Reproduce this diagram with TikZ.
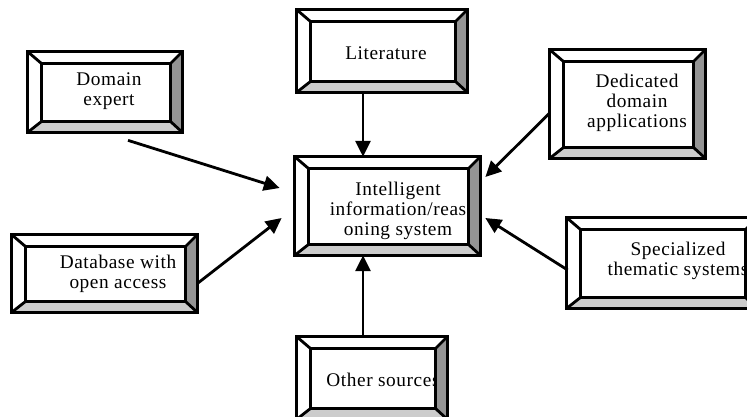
\documentclass[tikz,border=0pt]{standalone}
\usepackage{fontspec}
\setmainfont{Liberation Serif}[LetterSpace=3]
\usepackage{tikz}
\usetikzlibrary{arrows.meta,calc}

% raised frame drawn over a box node
\newcommand{\bevel}[1]{%
  \fill[black!42] (#1.north east) -- (#1.south east) -- ([shift={(-12,-11)}]#1.south east) -- ([shift={(-12,12)}]#1.north east) -- cycle;
  \fill[black!20] (#1.south west) -- (#1.south east) -- ([shift={(-12,-11)}]#1.south east) -- ([shift={(14,-11)}]#1.south west) -- cycle;
  \draw[frame] (#1.north west) rectangle (#1.south east);
  \draw[frame] ([shift={(14,12)}]#1.north west) rectangle ([shift={(-12,-11)}]#1.south east);
  \draw[frame] (#1.north west) -- ([shift={(14,12)}]#1.north west)
    (#1.north east) -- ([shift={(-12,12)}]#1.north east)
    (#1.south east) -- ([shift={(-12,-11)}]#1.south east)
    (#1.south west) -- ([shift={(14,-11)}]#1.south west);
}

\begin{document}
\begin{tikzpicture}[x=0.02cm, y=-0.02cm,
    bbox/.style n args={2}{fill=white, inner sep=0pt, minimum width=#1*0.02cm, minimum height=#2*0.02cm},
    txt/.style={align=center, inner sep=0pt, font=\fontsize{11}{11.5}\selectfont},
    frame/.style={line width=1.6pt, line join=miter},
    feed/.style={-{Triangle[length=9pt, width=8.5pt]}, line width=1.6pt}
  ]
    \useasboundingbox (0,0) rectangle (747,416);

    \node[bbox={154}{80}] (dom) at (105,92) {};
    \node[bbox={170}{82}] (lit) at (382,51) {};
    \node[bbox={185}{98}] (cen) at (387.5,206) {};
    \node[bbox={155}{108}] (ded) at (627.5,104) {};
    \node[bbox={185}{77}] (db) at (104.5,273.5) {};
    \node[bbox={190}{90}] (spe) at (662,263) {};
    \node[bbox={150}{82}] (oth) at (372,378) {};

    \node[txt] (domT) at (109,91) {Domain\\expert};
    \node[txt] (litT) at (386,53) {Literature};
    \node[txt] (cenT) at (398,211) {Intelligent\\information/reas\\oning system};
    \node[txt] (dedT) at (637,103) {Dedicated\\domain\\applications};
    \node[txt] (dbT) at (118,274) {Database with\\open access};
    \node[txt] (speT) at (678,261) {Specialized\\thematic systems};
    \node[txt] (othT) at (383,380) {Other sources};

    \bevel{dom}
    \bevel{lit}
    \bevel{cen}
    \bevel{ded}
    \bevel{db}
    \bevel{spe}
    \bevel{oth}

    \draw[feed] ([shift={(-19,0)}]lit.south) -- ([shift={(-24.5,0)}]cen.north);
    \draw[feed] ([shift={(23,8)}]dom.south) -- ([shift={(-15,-18)}]cen.west);
    \draw[feed] ([shift={(0,10)}]db.east) -- ([shift={(-13,12)}]cen.west);
    \draw[feed] ([shift={(0,9)}]ded.west) -- ([shift={(5,-29)}]cen.east);
    \draw[feed] ([shift={(1,7)}]spe.west) -- ([shift={(5,12)}]cen.east);
    \draw[feed] ([shift={(-9,0)}]oth.north) -- ([shift={(-24.5,0)}]cen.south);
\end{tikzpicture}
\end{document}
